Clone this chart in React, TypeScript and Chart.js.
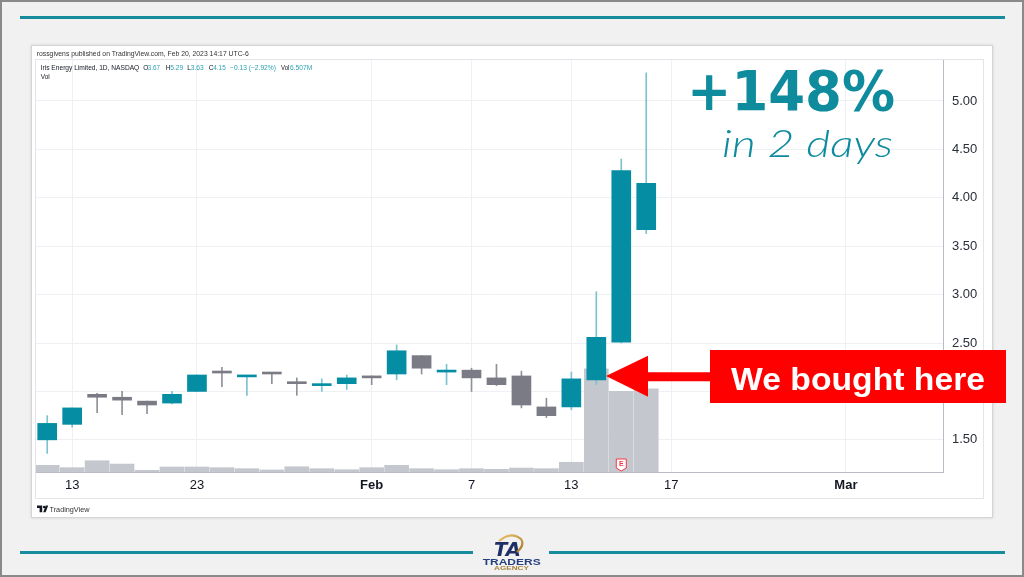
import React, { useEffect, useRef } from 'react';
import { Chart, registerables } from 'chart.js';

Chart.register(...registerables);

// Daily sessions (IREN, NASDAQ)
const sessions = [
  'Jan 12', 'Jan 13', 'Jan 17', 'Jan 18', 'Jan 19', 'Jan 20', 'Jan 23', 'Jan 24', 'Jan 25',
  'Jan 26', 'Jan 27', 'Jan 30', 'Jan 31', 'Feb 1', 'Feb 2', 'Feb 3', 'Feb 6', 'Feb 7',
  'Feb 8', 'Feb 9', 'Feb 10', 'Feb 13', 'Feb 14', 'Feb 15', 'Feb 16',
];
const openPx = [1.50, 1.66, 1.97, 1.94, 1.90, 1.88, 2.00, 2.20, 2.15, 2.19, 2.10, 2.06, 2.08, 2.15, 2.18, 2.37, 2.20, 2.22, 2.14, 2.16, 1.84, 1.84, 2.12, 2.51, 3.67];
const highPx = [1.75, 1.83, 1.98, 2.00, 1.90, 2.00, 2.17, 2.25, 2.16, 2.19, 2.14, 2.13, 2.17, 2.16, 2.48, 2.37, 2.28, 2.24, 2.28, 2.21, 1.93, 2.20, 3.03, 4.40, 5.29];
const lowPx = [1.36, 1.63, 1.78, 1.76, 1.77, 1.87, 2.00, 2.05, 1.96, 2.08, 1.96, 2.00, 2.02, 2.07, 2.12, 2.18, 2.07, 2.00, 2.06, 1.83, 1.73, 1.81, 2.07, 2.50, 3.63];
const closePx = [1.67, 1.83, 1.94, 1.91, 1.86, 1.97, 2.17, 2.19, 2.16, 2.18, 2.08, 2.08, 2.14, 2.14, 2.42, 2.24, 2.21, 2.14, 2.07, 1.86, 1.75, 2.13, 2.56, 4.28, 4.15];
// Volume in millions of shares
const volumeM = [0.52, 0.34, 0.88, 0.62, 0.13, 0.39, 0.39, 0.34, 0.26, 0.16, 0.41, 0.26, 0.18, 0.34, 0.52, 0.26, 0.18, 0.26, 0.21, 0.31, 0.26, 0.76, 8.07, 6.30, 6.507];

// Time axis: session index -> label (future sessions continue the index)
const timeTickIndex = [1, 6, 13, 17, 21, 25, 32];
const timeTickLabels = ['13', '23', 'Feb', '7', '13', '17', 'Mar'];
const monthTickIndex = [13, 32];
const priceTicks = [1.5, 2.0, 2.5, 3.0, 3.5, 4.0, 4.5, 5.0];
const earningsIndex = 23;

const X_MIN = -0.449;
const X_MAX = 35.89;
const Y_MIN = 1.168;
const Y_MAX = 5.423;
const VOL_MAX = 32.2;

const UP = '#058ea3';
const DOWN = '#7a7b84';
const UP_WICK = '#7cc3cf';
const DOWN_WICK = '#8f9199';
const VOL = '#c4c7cd';
const GRID = '#eef0f4';
const AXIS = '#b9bcc4';
const TEAL = '#0e8b9d';
const UI_FONT = "'Liberation Sans', Arial, sans-serif";

const earningsBadge = {
  id: 'earningsBadge',
  afterDatasetsDraw(chart: any) {
    const { ctx, chartArea, scales } = chart;
    const x = scales.x.getPixelForValue(earningsIndex);
    const y = chartArea.bottom - 7;
    ctx.save();
    ctx.beginPath();
    ctx.moveTo(x - 5, y - 6);
    ctx.lineTo(x + 5, y - 6);
    ctx.lineTo(x + 5, y + 3);
    ctx.lineTo(x, y + 6);
    ctx.lineTo(x - 5, y + 3);
    ctx.closePath();
    ctx.fillStyle = '#ffffff';
    ctx.fill();
    ctx.strokeStyle = '#f23645';
    ctx.lineWidth = 1;
    ctx.stroke();
    ctx.fillStyle = '#f23645';
    ctx.font = `bold 7px ${UI_FONT}`;
    ctx.textAlign = 'center';
    ctx.textBaseline = 'middle';
    ctx.fillText('E', x, y - 0.5);
    ctx.restore();
  },
};

function CandleChart() {
  const ref = useRef<HTMLCanvasElement>(null);

  useEffect(() => {
    const idx = sessions.map((_, i) => i);
    const isUp = (i: number) => closePx[i] >= openPx[i];
    const chart = new Chart(ref.current as HTMLCanvasElement, {
      type: 'bar',
      data: {
        datasets: [
          {
            label: 'Vol',
            data: idx.map((i) => ({ x: i, y: volumeM[i] })) as any,
            yAxisID: 'vol',
            backgroundColor: VOL,
            barThickness: 24,
            grouped: false,
            order: 3,
          },
          {
            label: 'Range',
            data: idx.map((i) => ({ x: i, y: [lowPx[i], highPx[i]] })) as any,
            yAxisID: 'y',
            backgroundColor: idx.map((i) => (isUp(i) ? UP_WICK : DOWN_WICK)),
            barThickness: 1,
            grouped: false,
            order: 2,
          },
          {
            label: 'Body',
            data: idx.map((i) => ({ x: i, y: [openPx[i], closePx[i]] })) as any,
            yAxisID: 'y',
            backgroundColor: idx.map((i) => (isUp(i) ? UP : DOWN)),
            barThickness: 19,
            minBarLength: 2,
            grouped: false,
            order: 1,
          },
        ],
      },
      options: {
        responsive: false,
        animation: false,
        layout: { padding: 0 },
        plugins: { legend: { display: false }, tooltip: { enabled: false } },
        scales: {
          x: {
            type: 'linear',
            min: X_MIN,
            max: X_MAX,
            offset: false,
            afterBuildTicks: (s: any) => {
              s.ticks = timeTickIndex.map((v) => ({ value: v }));
            },
            afterFit: (s: any) => {
              s.height = 26;
              s.paddingLeft = 0;
              s.paddingRight = 0;
            },
            ticks: {
              autoSkip: false,
              maxRotation: 0,
              padding: 6,
              color: '#131722',
              callback: (v: any) => {
                const k = timeTickIndex.indexOf(Number(v));
                return k >= 0 ? timeTickLabels[k] : '';
              },
              font: (c: any) => ({
                family: UI_FONT,
                size: 13,
                weight: c.tick && monthTickIndex.includes(c.tick.value) ? 'bold' : 'normal',
              }),
            },
            grid: { color: GRID, drawTicks: false, offset: false },
            border: { display: true, color: AXIS },
          },
          y: {
            type: 'linear',
            position: 'right',
            min: Y_MIN,
            max: Y_MAX,
            afterBuildTicks: (s: any) => {
              s.ticks = priceTicks.map((v) => ({ value: v }));
            },
            afterFit: (s: any) => {
              s.width = 40;
              s.paddingTop = 0;
              s.paddingBottom = 0;
            },
            ticks: {
              padding: 9,
              color: '#2a2e39',
              font: { family: UI_FONT, size: 13 },
              callback: (v: any) => Number(v).toFixed(2),
            },
            grid: { color: GRID, drawTicks: false },
            border: { display: true, color: AXIS },
          },
          vol: {
            type: 'linear',
            display: false,
            min: 0,
            max: VOL_MAX,
          },
        },
      } as any,
      plugins: [earningsBadge],
    });
    return () => chart.destroy();
  }, []);

  return (
    <canvas
      ref={ref}
      width={947}
      height={438}
      style={{ position: 'absolute', left: 36, top: 60, width: 947, height: 438, display: 'block' }}
    />
  );
}

export default function App() {
  useEffect(() => {
    document.body.style.margin = '0';
  }, []);

  const headTeal = '#2aa3b5';
  const headDark = '#131722';

  return (
    <div
      style={{
        position: 'fixed',
        left: 0,
        top: 0,
        width: 1024,
        height: 577,
        background: '#f1f1f1',
        boxShadow: 'inset 0 0 0 2px #8a8a8a',
        overflow: 'hidden',
        fontFamily: UI_FONT,
      }}
    >
      {/* teal rules */}
      <div style={{ position: 'absolute', left: 20, top: 16, width: 985, height: 3, background: '#168c9d' }} />
      <div style={{ position: 'absolute', left: 20, top: 551, width: 453, height: 3, background: '#168c9d' }} />
      <div style={{ position: 'absolute', left: 549, top: 551, width: 456, height: 3, background: '#168c9d' }} />

      {/* white card */}
      <div
        style={{
          position: 'absolute',
          left: 31,
          top: 45,
          width: 962,
          height: 473,
          background: '#ffffff',
          border: '1px solid #d4d4d4',
          boxSizing: 'border-box',
          boxShadow: '0 0 3px rgba(0,0,0,0.12)',
        }}
      />

      <CandleChart />

      {/* widget frame */}
      <div
        style={{
          position: 'absolute',
          left: 35,
          top: 59,
          width: 949,
          height: 440,
          border: '1px solid #e3e5ea',
          boxSizing: 'border-box',
          pointerEvents: 'none',
        }}
      />

      <svg
        width={1024}
        height={577}
        style={{ position: 'absolute', left: 0, top: 0, pointerEvents: 'none' }}
      >
        {/* publication line */}
        <text x={36.7} y={56.4} fontSize={6.6} fill="#333" fontFamily={UI_FONT} textLength={212} lengthAdjust="spacingAndGlyphs">
          rossgivens published on TradingView.com, Feb 20, 2023 14:17 UTC-6
        </text>

        {/* symbol legend */}
        <g fontFamily={UI_FONT} fontSize={6.6}>
          <text x={40.7} y={69.7} fill={headDark} textLength={98.6} lengthAdjust="spacingAndGlyphs">
            Iris Energy Limited, 1D, NASDAQ
          </text>
          <text x={143.3} y={69.7} fill={headDark}>O</text>
          <text x={147.7} y={69.7} fill={headTeal} textLength={12.3} lengthAdjust="spacingAndGlyphs">3.67</text>
          <text x={165.7} y={69.7} fill={headDark}>H</text>
          <text x={170.3} y={69.7} fill={headTeal} textLength={13} lengthAdjust="spacingAndGlyphs">5.29</text>
          <text x={187.3} y={69.7} fill={headDark}>L</text>
          <text x={190.7} y={69.7} fill={headTeal} textLength={13} lengthAdjust="spacingAndGlyphs">3.63</text>
          <text x={208.7} y={69.7} fill={headDark}>C</text>
          <text x={213.3} y={69.7} fill={headTeal} textLength={12.4} lengthAdjust="spacingAndGlyphs">4.15</text>
          <text x={230} y={69.7} fill={headTeal} textLength={46} lengthAdjust="spacingAndGlyphs">−0.13 (−2.92%)</text>
          <text x={281} y={69.7} fill={headDark} textLength={8.3} lengthAdjust="spacingAndGlyphs">Vol</text>
          <text x={290} y={69.7} fill={headTeal} textLength={22.3} lengthAdjust="spacingAndGlyphs">6.507M</text>
          <text x={40.7} y={79} fill={headDark} textLength={9} lengthAdjust="spacingAndGlyphs">Vol</text>
        </g>

        {/* headline */}
        <text
          x={687}
          y={110}
          fill={TEAL}
          fontFamily="'DejaVu Sans', sans-serif"
          fontWeight="bold"
          fontSize={55}
          textLength={208}
          lengthAdjust="spacingAndGlyphs"
        >
          +148%
        </text>
        <text
          x={722}
          y={157}
          fill={TEAL}
          fontFamily="Lato, 'Open Sans', sans-serif"
          fontStyle="italic"
          fontWeight={300}
          fontSize={37}
          textLength={171}
          lengthAdjust="spacingAndGlyphs"
        >
          in 2 days
        </text>

        {/* entry callout */}
        <polygon
          points="606,376 648,355.7 648,372.3 711,372.3 711,381.3 648,381.3 648,396.7"
          fill="#ff0000"
        />
        <rect x={710} y={350} width={296} height={53} fill="#ff0000" />
        <text
          x={731}
          y={390}
          fill="#ffffff"
          fontFamily={UI_FONT}
          fontWeight="bold"
          fontSize={32}
          textLength={254}
          lengthAdjust="spacingAndGlyphs"
        >
          We bought here
        </text>

        {/* TradingView mark */}
        <g fill="#131722">
          <path d="M37,505.6 h5.2 v6.6 h-2.6 v-4.1 h-2.6 Z" />
          <circle cx={44.2} cy={507} r={1.3} />
          <path d="M45.8,505.6 h2.4 l-2.6,6.6 h-2.4 Z" />
        </g>
        <text x={49.5} y={511.5} fontSize={7} fill="#333" fontFamily={UI_FONT} textLength={40} lengthAdjust="spacingAndGlyphs">
          TradingView
        </text>

        {/* Traders Agency mark */}
        <defs>
          <linearGradient id="gold" x1="0" y1="0" x2="1" y2="1">
            <stop offset="0" stopColor="#e9c46a" />
            <stop offset="1" stopColor="#a8792a" />
          </linearGradient>
        </defs>
        <text
          x={494}
          y={556}
          fill="#1d2f66"
          fontFamily="'DejaVu Sans', sans-serif"
          fontWeight="bold"
          fontStyle="italic"
          fontSize={19}
          textLength={27}
          lengthAdjust="spacingAndGlyphs"
        >
          TA
        </text>
        <path d="M499,541 Q511,531 521,539 Q525,545 517,552" fill="none" stroke="url(#gold)" strokeWidth={2.2} />
        <text
          x={482.7}
          y={564.5}
          fill="#26407f"
          fontFamily={UI_FONT}
          fontWeight="bold"
          fontSize={8.5}
          textLength={58}
          lengthAdjust="spacingAndGlyphs"
        >
          TRADERS
        </text>
        <text
          x={494}
          y={569.8}
          fill="#a8823a"
          fontFamily={UI_FONT}
          fontWeight="bold"
          fontSize={4.5}
          textLength={35}
          lengthAdjust="spacingAndGlyphs"
        >
          AGENCY
        </text>
      </svg>
    </div>
  );
}
